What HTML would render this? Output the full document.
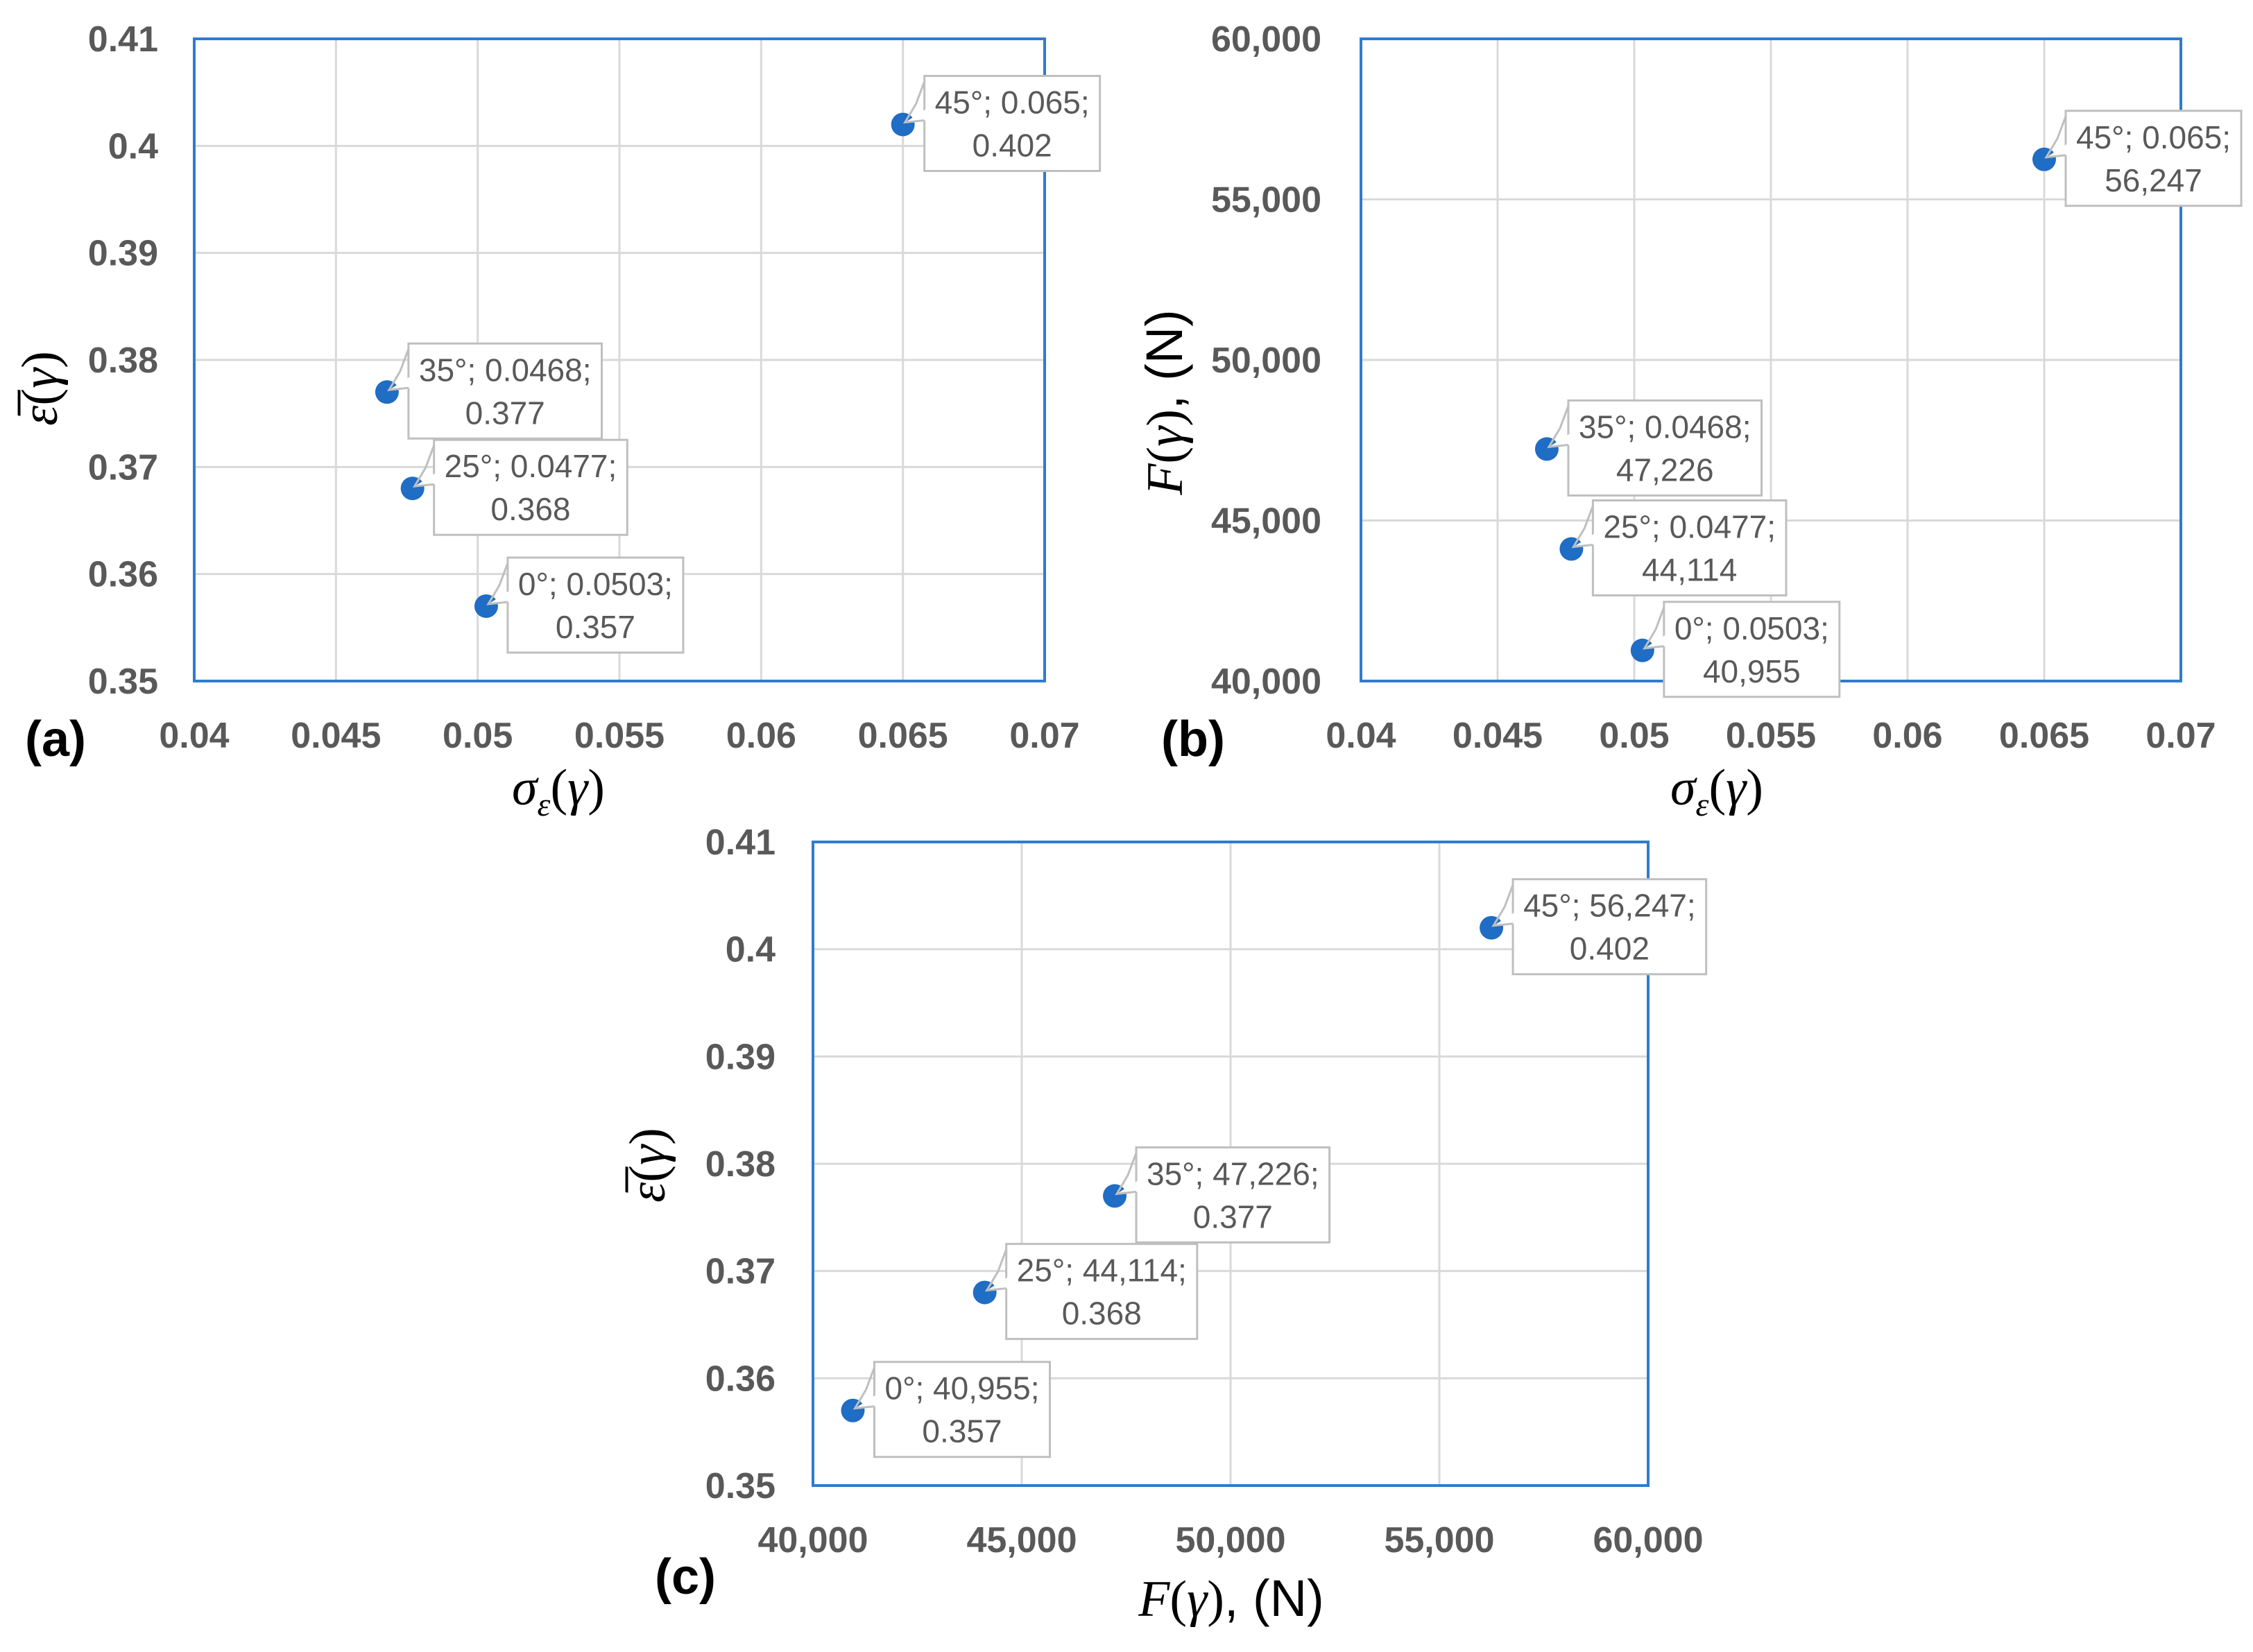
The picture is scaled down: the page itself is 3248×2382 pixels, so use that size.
<!DOCTYPE html>
<html><head><meta charset="utf-8">
<style>
html,body{margin:0;padding:0;background:#fff;}
svg{display:block;}
.tick{font-family:"Liberation Sans Narrow","Liberation Sans",sans-serif;font-weight:bold;font-size:52px;fill:#595959;}
.lbl{font-family:"Liberation Sans Narrow","Liberation Sans",sans-serif;font-size:46px;fill:#595959;}
.title{font-family:"Liberation Serif",serif;font-style:italic;font-size:74px;fill:#000;}
.panel{font-family:"Liberation Sans",sans-serif;font-weight:bold;font-size:72px;fill:#000;}
</style></head>
<body>
<svg id="fig" width="3248" height="2382" viewBox="0 0 3248 2382" xmlns="http://www.w3.org/2000/svg"></svg>
<script>
// data
const angles = ["0°","25°","35°","45°"];
const sigmaVals = [0.0503, 0.0477, 0.0468, 0.065];
const sigmaText = ["0.0503","0.0477","0.0468","0.065"];
const epsVals = [0.357, 0.368, 0.377, 0.402];
const epsText = ["0.357","0.368","0.377","0.402"];
const forceVals = [40955, 44114, 47226, 56247];
const forceText = ["40,955","44,114","47,226","56,247"];
const sigmaTicks = [0.04,0.045,0.05,0.055,0.06,0.065,0.07];
const sigmaTickLabels = ["0.04","0.045","0.05","0.055","0.06","0.065","0.07"];
const epsTicks = [0.35,0.36,0.37,0.38,0.39,0.4,0.41];
const epsTickLabels = ["0.35","0.36","0.37","0.38","0.39","0.4","0.41"];
const forceTicks = [40000,45000,50000,55000,60000];
const forceTickLabels = ["40,000","45,000","50,000","55,000","60,000"];

const NS="http://www.w3.org/2000/svg";
const svg=document.getElementById('fig');
function mk(tag,attrs,parent){const e=document.createElementNS(NS,tag);for(const k in attrs)e.setAttribute(k,attrs[k]);(parent||svg).appendChild(e);return e;}

function panel(cfg){
  const g=mk('g',{});
  
  
  const {L,R,T,B}=cfg;
  const xs=v=>L+(v-cfg.xTicks[0])/(cfg.xTicks[cfg.xTicks.length-1]-cfg.xTicks[0])*(R-L);
  const ys=v=>B-(v-cfg.yTicks[0])/(cfg.yTicks[cfg.yTicks.length-1]-cfg.yTicks[0])*(B-T);
  cfg.xTicks.forEach((t,i)=>{
    const x=xs(t);
    const gl=mk('line',{x1:x,x2:x,y1:T,y2:B,stroke:'#d9d9d9','stroke-width':3},g);
    
    
    const tx=mk('text',{x:x,y:B+96,'text-anchor':'middle',class:'tick'},g);
    tx.textContent=cfg.xLabels[i];
    
    
  });
  cfg.yTicks.forEach((t,i)=>{
    const y=ys(t);
    const gl=mk('line',{x1:L,x2:R,y1:y,y2:y,stroke:'#d9d9d9','stroke-width':3},g);
    
    
    const tx=mk('text',{x:cfg.yLabelX,y:y+18,'text-anchor':'end',class:'tick'},g);
    tx.textContent=cfg.yLabels[i];
    
    
  });
  const fr=mk('rect',{x:L,y:T,width:R-L,height:B-T,fill:'none',stroke:'#2f7bd0','stroke-width':4},g);
  
  
  cfg.xVals.forEach((xv,i)=>{
    const px=xs(xv), py=ys(cfg.yVals[i]);
    const pt=mk('circle',{cx:px,cy:py,r:17,fill:'#1f6dc4'},g);
    
    
    const lg=mk('g',{},g);
    
    
    const bx=px+31, by=py-70, bh=137;
    const rect=mk('rect',{x:bx,y:by,height:bh,width:200,fill:'#fff',stroke:'#bfbfbf','stroke-width':3},lg);
    const t1=mk('text',{y:by+54,'text-anchor':'middle',class:'lbl'},lg);
    t1.textContent=angles[i]+'; '+cfg.xText[i]+';';
    const t2=mk('text',{y:by+116,'text-anchor':'middle',class:'lbl'},lg);
    t2.textContent=cfg.yText[i];
    const w=Math.max(t1.getComputedTextLength(),t2.getComputedTextLength())+30;
    rect.setAttribute('width',w);
    t1.setAttribute('x',bx+w/2); t2.setAttribute('x',bx+w/2);
    mk('polygon',{points:`${bx+2},${py-22} ${px+3},${py-3} ${bx+2},${py-6}`,fill:'#fff'},lg);
    mk('polyline',{points:`${bx},${by+8} ${bx-12},${py-30} ${px+3},${py-3} ${bx},${py-6}`,fill:'none',stroke:'#bfbfbf','stroke-width':3},lg);
  });
  return g;
}

panel({name:'chart-a',L:280,R:1506,T:56,B:982,xTicks:sigmaTicks,xLabels:sigmaTickLabels,yTicks:epsTicks,yLabels:epsTickLabels,yLabelX:228,xVals:sigmaVals,yVals:epsVals,xText:sigmaText,yText:epsText});
panel({name:'chart-b',L:1962,R:3144,T:56,B:982,xTicks:sigmaTicks,xLabels:sigmaTickLabels,yTicks:[40000,45000,50000,55000,60000],yLabels:forceTickLabels,yLabelX:1905,xVals:sigmaVals,yVals:forceVals,xText:sigmaText,yText:forceText});
panel({name:'chart-c',L:1172,R:2376,T:1214,B:2142,xTicks:forceTicks,xLabels:forceTickLabels,yTicks:epsTicks,yLabels:epsTickLabels,yLabelX:1118,xVals:forceVals,yVals:epsVals,xText:forceText,yText:epsText});

function txt(x,y,s,cls,name,rot,anchor){
  const t=mk('text',{x:x,y:y,class:cls,'text-anchor':anchor||'middle'});
  if(rot) t.setAttribute('transform',`rotate(-90 ${x} ${y})`);
  t.innerHTML=s;
  
  
}
txt(805,1160,'σ<tspan font-size="48" dy="16">ε</tspan><tspan dy="-16" font-style="normal">(</tspan>γ<tspan font-style="normal">)</tspan>','title','x-axis-title-a');
txt(2475,1160,'σ<tspan font-size="48" dy="16">ε</tspan><tspan dy="-16" font-style="normal">(</tspan>γ<tspan font-style="normal">)</tspan>','title','x-axis-title-b');
txt(1775,2330,'F<tspan font-style="normal">(</tspan>γ<tspan font-style="normal">)</tspan><tspan font-style="normal" font-family="Liberation Sans Narrow, Liberation Sans, sans-serif">, (N)</tspan>','title','x-axis-title-c');
txt(82,560,'ε̅<tspan font-style="normal">(</tspan>γ<tspan font-style="normal">)</tspan>','title','y-axis-title-a',true);
txt(1704,580,'F<tspan font-style="normal">(</tspan>γ<tspan font-style="normal">)</tspan><tspan font-style="normal" font-family="Liberation Sans Narrow, Liberation Sans, sans-serif">, (N)</tspan>','title','y-axis-title-b',true);
txt(958,1680,'ε̅<tspan font-style="normal">(</tspan>γ<tspan font-style="normal">)</tspan>','title','y-axis-title-c',true);
txt(80,1090,'(a)','panel','panel-label-a');
txt(1720,1090,'(b)','panel','panel-label-b');
txt(988,2298,'(c)','panel','panel-label-c');
</script>
</body></html>
